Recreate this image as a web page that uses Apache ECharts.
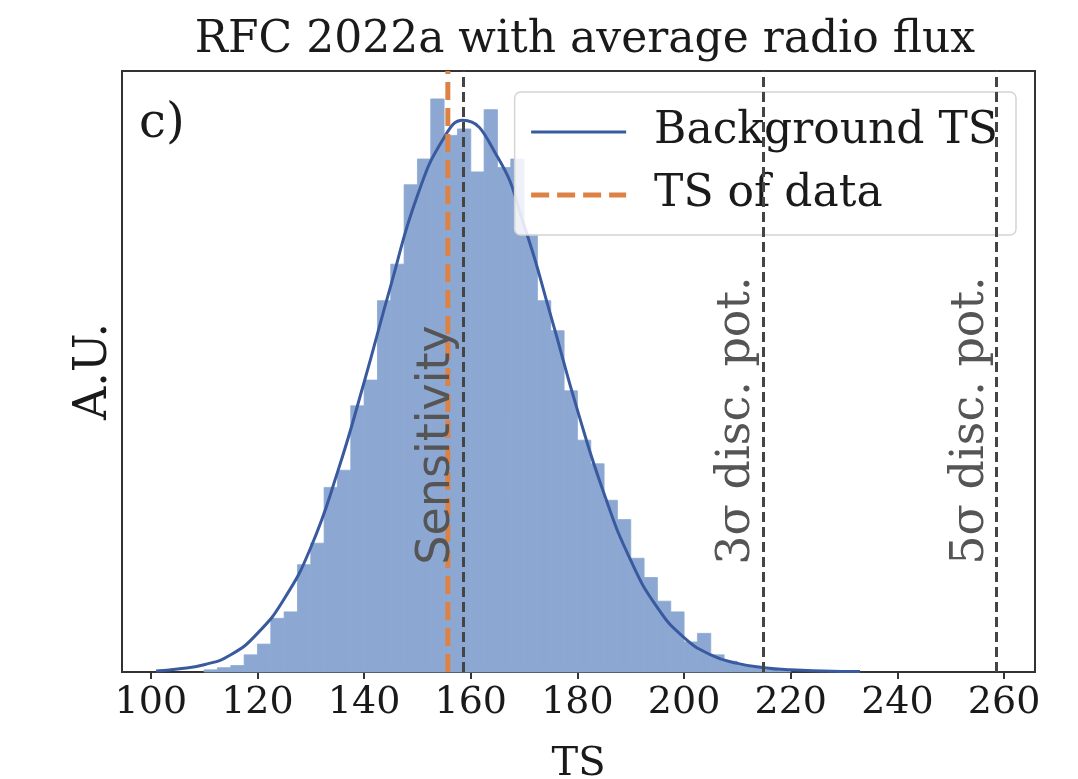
<!DOCTYPE html>
<html>
<head>
<meta charset="utf-8">
<script src="https://cdn.jsdelivr.net/npm/echarts@6/dist/echarts.min.js"></script>
<style>
  html, body { margin: 0; padding: 0; background: #fff; }
  #chart { width: 1078px; height: 779px; }
</style>
</head>
<body>
<div id="chart"></div>
<script>
// histogram of the background TS (density, bins of 2.5)
var binWidth = 2.5
var binStarts = [110, 112.5, 115, 117.5, 120, 122.5, 125, 127.5, 130, 132.5, 135, 137.5, 140, 142.5, 145, 147.5,
  150, 152.5, 155, 157.5, 160, 162.5, 165, 167.5, 170, 172.5, 175, 177.5, 180, 182.5, 185, 187.5,
  190, 192.5, 195, 197.5, 200, 202.5, 205, 207.5, 210, 212.5, 215, 217.5]
var binHeights = [0.0001, 0.0002, 0.0003, 0.0008, 0.0013, 0.0025, 0.0028, 0.0050, 0.0060, 0.0086, 0.0094, 0.0124,
  0.0136, 0.0173, 0.0190, 0.0227, 0.0239, 0.0267, 0.0250, 0.0253, 0.0233, 0.0262, 0.0235, 0.0239,
  0.0204, 0.0173, 0.0159, 0.0131, 0.0108, 0.0097, 0.0080, 0.0071, 0.0053, 0.0044, 0.0033, 0.0028,
  0.0014, 0.0018, 0.0008, 0.0005, 0.0003, 0.0002, 0.0001, 0.00005]

// fitted background curve
var curveTS = [101, 105, 110, 115, 120, 125, 130, 135, 140, 145, 150, 155, 158.5, 165, 170, 175, 180, 185,
  190, 195, 200, 205, 210, 215, 220, 226, 233]
var curveAU = [0.00005, 0.00014, 0.00034, 0.0008, 0.0018, 0.0034, 0.0058, 0.0093, 0.0135, 0.0180, 0.0222,
  0.0249, 0.0257, 0.0240, 0.0208, 0.0166, 0.0122, 0.0083, 0.0052, 0.0030, 0.0016, 0.0008, 0.0004,
  0.0002, 0.0001, 0.00005, 0.00002]

var tsOfData = 155.7
var refNames = ['Sensitivity', '3σ disc. pot.', '5σ disc. pot.']
var refTS = [158.6, 214.8, 258.6]
var refLabelFonts = ['DejaVu Sans', 'DejaVu Serif', 'DejaVu Serif']

var xTicks = [100, 120, 140, 160, 180, 200, 220, 240, 260]
var yTop = 0.028

var serif = 'DejaVu Serif'
var chart = echarts.init(document.getElementById('chart'))

chart.setOption({
  animation: false,
  backgroundColor: '#fff',
  title: {
    text: 'RFC 2022a with average radio flux',
    left: 580,
    top: 14,
    textAlign: 'center',
    textStyle: { fontFamily: serif, fontSize: 44, fontWeight: 'normal', color: '#1a1a1a' }
  },
  grid: {
    left: 122,
    right: 43,
    top: 71,
    bottom: 107,
    outerBoundsMode: 'none',
    containLabel: false,
    show: true,
    borderColor: '#333',
    borderWidth: 2
  },
  legend: {
    data: [
      { name: 'Background TS', lineStyle: { width: 3 } },
      { name: 'TS of data', lineStyle: { width: 5, type: [18, 8] } }
    ],
    orient: 'vertical',
    right: 62,
    top: 92,
    itemWidth: 95,
    itemHeight: 14,
    itemGap: 19,
    padding: [18, 18, 18, 14],
    itemStyle: { opacity: 0 },
    backgroundColor: 'rgba(255,255,255,0.85)',
    borderColor: '#d4d4d4',
    borderWidth: 1.5,
    borderRadius: 6,
    textStyle: { fontFamily: serif, fontSize: 44, color: '#1a1a1a', padding: [0, 0, 0, 23] }
  },
  xAxis: {
    type: 'value',
    min: 94.6,
    max: 265.8,
    name: 'TS',
    nameLocation: 'middle',
    nameGap: 73,
    nameTextStyle: { fontFamily: serif, fontSize: 40, color: '#1a1a1a' },
    axisLine: { show: true, onZero: false, lineStyle: { color: '#333', width: 2 } },
    axisTick: { show: true, customValues: xTicks, length: 7, lineStyle: { color: '#333', width: 2 } },
    axisLabel: { customValues: xTicks, fontFamily: serif, fontSize: 38, color: '#1a1a1a', margin: 12 },
    splitLine: { show: false }
  },
  yAxis: {
    type: 'value',
    min: 0,
    max: yTop,
    name: 'A.U.',
    nameLocation: 'middle',
    nameRotate: 90,
    nameGap: 5,
    nameTextStyle: { fontFamily: serif, fontSize: 46, color: '#1a1a1a' },
    axisLine: { show: false },
    axisTick: { show: false },
    axisLabel: { show: false },
    splitLine: { show: false }
  },
  series: [
    {
      name: 'hist',
      type: 'custom',
      silent: true,
      data: binStarts.map(function (s, i) { return [s, binHeights[i]] }),
      renderItem: function (params, api) {
        var p0 = api.coord([api.value(0), 0])
        var p1 = api.coord([api.value(0) + binWidth, api.value(1)])
        return {
          type: 'rect',
          shape: { x: p0[0], y: p1[1], width: p1[0] - p0[0], height: p0[1] - p1[1] },
          style: { fill: '#8ca8d2', stroke: '#8ca8d2', lineWidth: 0.8 }
        }
      },
      z: 1
    },
    {
      name: 'Background TS',
      type: 'line',
      smooth: 0.5,
      symbol: 'none',
      data: curveTS.map(function (t, i) { return [t, curveAU[i]] }),
      lineStyle: { color: '#3a5aa0', width: 3 },
      itemStyle: { color: '#3a5aa0' },
      z: 3
    },
    {
      name: 'refs',
      type: 'line',
      data: [],
      markLine: {
        silent: true,
        symbol: ['none', 'none'],
        label: { show: false },
        lineStyle: { color: '#444', type: [10, 5], width: 3 },
        data: refTS.map(function (v) { return { xAxis: v } })
      },
      z: 4
    },
    {
      name: 'TS of data',
      type: 'line',
      symbol: 'none',
      data: [[tsOfData, 0], [tsOfData, yTop]],
      lineStyle: { color: '#dd8245', type: [18, 8], width: 5 },
      itemStyle: { color: '#dd8245' },
      z: 5
    }
  ]
})

// rotated labels beside the vertical lines, and the panel tag
var graphics = [{
  type: 'text',
  left: 139,
  top: 101,
  style: { text: 'c)', font: '48px "DejaVu Serif"', fill: '#1a1a1a' }
}]
refNames.forEach(function (name, i) {
  var p = chart.convertToPixel({ gridIndex: 0 }, [refTS[i], 0.005])
  graphics.push({
    type: 'text',
    x: p[0] - 3,
    y: p[1],
    rotation: Math.PI / 2,
    style: {
      text: name,
      font: '46px "' + refLabelFonts[i] + '"',
      fill: '#555',
      align: 'left',
      verticalAlign: 'bottom'
    },
    z: 10
  })
})
chart.setOption({ graphic: graphics })
</script>
</body>
</html>
